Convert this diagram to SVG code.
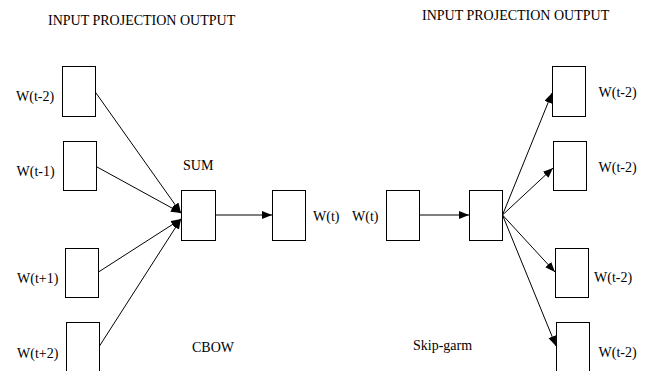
<svg xmlns="http://www.w3.org/2000/svg" width="652" height="371" viewBox="0 0 652 371">
<style>
  text { font-family: "Liberation Serif", "Times New Roman", serif; font-size: 14px; fill: #000; }
  .box { fill: #fff; stroke: #000; stroke-width: 1; }
  .edge { stroke: #000; stroke-width: 1; fill: none; marker-end: url(#arr); }
</style>
<defs>
  <marker id="arr" markerUnits="userSpaceOnUse" markerWidth="11" markerHeight="9" refX="10" refY="4" orient="auto">
    <path d="M0,0 L10,4 L0,8 z" fill="#000"/>
  </marker>
</defs>
<rect width="652" height="371" fill="#fff"/>

<text x="48" y="25">INPUT PROJECTION OUTPUT</text>
<text x="422" y="20">INPUT PROJECTION OUTPUT</text>
<text x="192" y="352">CBOW</text>
<text x="413" y="350">Skip-garm</text>

<g id="connectors">
  <line class="edge" x1="95.5" y1="92.3" x2="181" y2="213"/>
  <line class="edge" x1="96.5" y1="166.7" x2="181" y2="213"/>
  <line class="edge" x1="98.5" y1="272" x2="181" y2="219"/>
  <line class="edge" x1="99.5" y1="346" x2="181" y2="219"/>
  <line class="edge" x1="215.5" y1="215" x2="272" y2="215"/>
  <line class="edge" x1="419.5" y1="215" x2="469" y2="215"/>
  <line class="edge" x1="502.5" y1="215" x2="552" y2="93"/>
  <line class="edge" x1="502.5" y1="215" x2="553" y2="168"/>
  <line class="edge" x1="502.5" y1="215" x2="555" y2="272"/>
  <line class="edge" x1="502.5" y1="215" x2="556" y2="346"/>
</g>

<g id="cbow-in-t-2"><rect class="box" x="62.5" y="66.5" width="33" height="50"/><text x="16" y="101">W(t-2)</text></g>
<g id="cbow-in-t-1"><rect class="box" x="63.5" y="141.5" width="33" height="49"/><text x="16.5" y="176">W(t-1)</text></g>
<g id="cbow-in-t+1"><rect class="box" x="65.5" y="248.5" width="33" height="49"/><text x="17" y="283">W(t+1)</text></g>
<g id="cbow-in-t+2"><rect class="box" x="66.5" y="322.5" width="33" height="60"/><text x="17" y="358">W(t+2)</text></g>
<g id="cbow-proj"><rect class="box" x="181.5" y="190.5" width="34" height="50"/><text x="183" y="170">SUM</text></g>
<g id="cbow-out"><rect class="box" x="272.5" y="190.5" width="33" height="50"/><text x="313" y="221">W(t)</text></g>

<g id="sg-in"><rect class="box" x="386.5" y="190.5" width="33" height="50"/><text x="352" y="221">W(t)</text></g>
<g id="sg-proj"><rect class="box" x="469.5" y="190.5" width="33" height="50"/></g>
<g id="sg-out-1"><rect class="box" x="552.5" y="66.5" width="33" height="50"/><text x="598.5" y="97">W(t-2)</text></g>
<g id="sg-out-2"><rect class="box" x="553.5" y="141.5" width="33" height="49"/><text x="598.5" y="172">W(t-2)</text></g>
<g id="sg-out-3"><rect class="box" x="555.5" y="248.5" width="33" height="49"/><text x="594" y="282">W(t-2)</text></g>
<g id="sg-out-4"><rect class="box" x="556.5" y="322.5" width="33" height="60"/><text x="598.5" y="357">W(t-2)</text></g>
</svg>
